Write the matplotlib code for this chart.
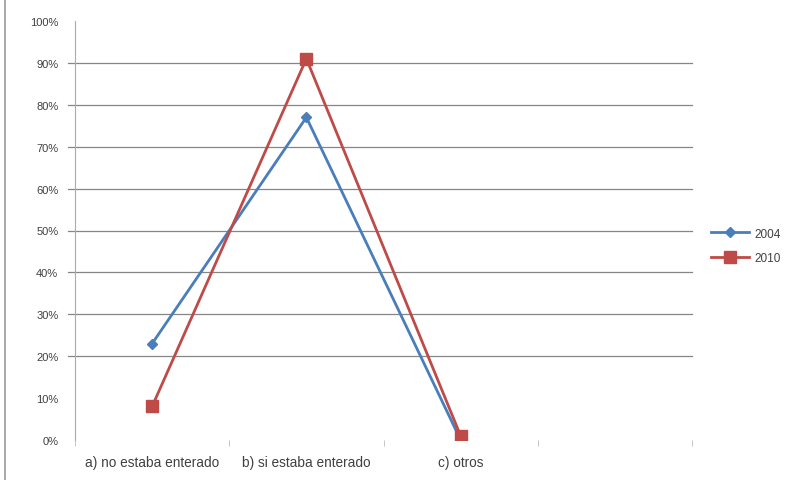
import matplotlib.pyplot as plt
from matplotlib.lines import Line2D

# datos
categorias = ["a) no estaba enterado", "b) si estaba enterado", "c) otros", ""]
serie_2004 = [23, 77, 0]
serie_2010 = [8, 91, 1]
ticks_y = list(range(0, 101, 10))
lineas_grid = [20, 30, 40, 50, 60, 70, 80, 90]

plt.rcParams['font.family'] = ['Liberation Sans', 'DejaVu Sans']

fig = plt.figure(figsize=(7.85, 4.81), dpi=100)
ax = fig.add_axes([75/785, 40/481, 617/785, 419/481])

x = list(range(len(serie_2004)))
ax.plot(x, serie_2004, color="#4A7EBB", lw=2.0, marker="D", ms=5,
        label="2004", zorder=3)
ax.plot(x, serie_2010, color="#BE4B48", lw=2.0, marker="s", ms=8,
        label="2010", zorder=4)

# lineas de cuadricula
for v in lineas_grid:
    ax.plot([-0.012, 1], [v, v], transform=ax.get_yaxis_transform(),
            color="#868686", lw=0.9, clip_on=False, zorder=1)

ax.set_xlim(-0.5, 3.5)
ax.set_ylim(0, 100)
ax.set_yticks(ticks_y)
ax.set_yticklabels([f"{t}%" for t in ticks_y])
ax.set_xticks(range(len(categorias)))
ax.set_xticklabels(categorias)
ax.set_xticks([-0.5, 0.5, 1.5, 2.5, 3.5], minor=True)
ax.tick_params(axis="x", which="major", length=0, pad=11, labelsize=9.8,
               labelcolor="#404040")
ax.tick_params(axis="x", which="minor", length=4, color="#BBBBBB", direction="out")
ax.tick_params(axis="y", length=0, pad=12, labelsize=8, labelcolor="#404040")

for s in ["top", "right", "bottom"]:
    ax.spines[s].set_visible(False)
ax.spines["left"].set_color("#AAAAAA")
ax.spines["left"].set_linewidth(0.8)

ax.legend(loc="center left", bbox_to_anchor=(1.03, 0.463), frameon=False,
          fontsize=8.5, handlelength=3.3, handletextpad=0.4, labelspacing=1.1,
          borderpad=0, borderaxespad=0, labelcolor="#404040")

# borde izquierdo del grafico
fig.add_artist(Line2D([5/785, 5/785], [0, 1], color="#999999", lw=1.2))

fig.savefig("out.png", dpi=100)
